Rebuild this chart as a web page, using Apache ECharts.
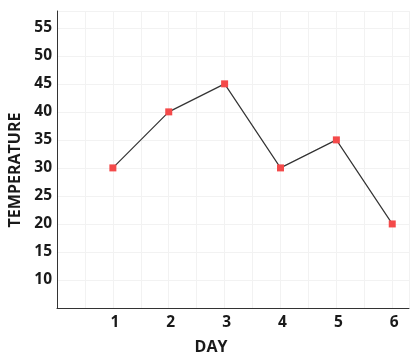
<!DOCTYPE html>
<html><head><meta charset="utf-8">
<script src="https://cdn.jsdelivr.net/npm/echarts@6/dist/echarts.min.js"></script>
<style>html,body{margin:0;padding:0;background:#fff}#c{width:419px;height:360px}</style>
</head><body><div id="c"></div>
<script>
const days = [1, 2, 3, 4, 5, 6];
const temperatures = [30, 40, 45, 30, 35, 20];
const xLabelValues = [1, 2, 3, 4, 5, 6];
const yLabelValues = [10, 15, 20, 25, 30, 35, 40, 45, 50, 55];

const chart = echarts.init(document.getElementById('c'), null, {renderer: 'canvas'});
const font = 'Open Sans';
chart.setOption({
  animation: false,
  grid: {left: 57, top: 11, right: 10, bottom: 52, containLabel: false, outerBoundsMode: 'none'},
  xAxis: {
    type: 'value', min: 0, max: 6.3, interval: 0.5,
    name: 'DAY', nameLocation: 'middle', nameGap: 31,
    nameTextStyle: {fontFamily: font, fontWeight: 'bold', fontSize: 16, color: '#1a1a1a', padding: [0, 44, 0, 0]},
    axisLine: {show: true, lineStyle: {color: '#333', width: 1}},
    axisTick: {show: false},
    axisLabel: {
      fontFamily: font, fontWeight: 'bold', fontSize: 15.5, color: '#1a1a1a', margin: 7,
      padding: [0, 0, 0, 4],
      showMaxLabel: false,
      formatter: v => xLabelValues.includes(v) ? String(v) : ''
    },
    splitLine: {show: true, lineStyle: {color: '#f2f2f2', width: 1}}
  },
  yAxis: {
    type: 'value', min: 5, max: 58, interval: 5,
    name: 'TEMPERATURE', nameLocation: 'middle', nameGap: 22, nameRotate: 90,
    nameTextStyle: {fontFamily: font, fontWeight: 'bold', fontSize: 16, color: '#1a1a1a', padding: [0, 21, 0, 0]},
    axisLine: {show: true, lineStyle: {color: '#333', width: 1}},
    axisTick: {show: false},
    axisLabel: {
      fontFamily: font, fontWeight: 'bold', fontSize: 15.5, color: '#1a1a1a', margin: 5,
      showMaxLabel: false,
      formatter: v => yLabelValues.includes(v) ? String(v) : ''
    },
    splitLine: {show: true, lineStyle: {color: '#f2f2f2', width: 1}}
  },
  series: [{
    type: 'line',
    data: days.map((d, i) => [d, temperatures[i]]),
    symbol: 'rect', symbolSize: 7,
    itemStyle: {color: '#f44a4a'},
    lineStyle: {color: '#333', width: 1.2}
  }]
});
</script></body></html>
